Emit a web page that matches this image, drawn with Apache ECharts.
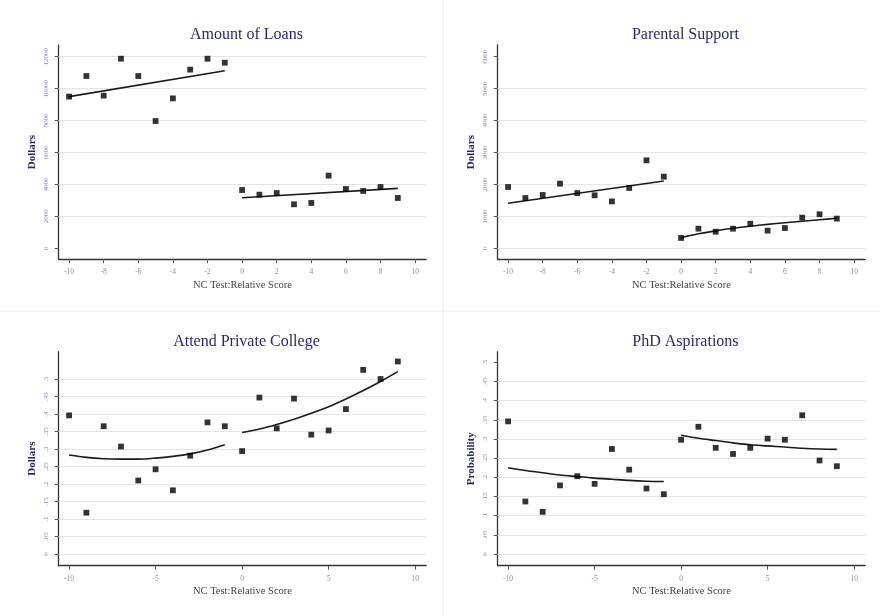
<!DOCTYPE html>
<html>
<head>
<meta charset="utf-8">
<script src="https://cdn.jsdelivr.net/npm/echarts@6/dist/echarts.min.js"></script>
<style>html,body{margin:0;padding:0;background:#fff;}#c{width:880px;height:616px;}</style>
</head>
<body>
<div id="c"></div>
<script>
// ---- data ----
const titles = ["Amount of Loans", "Parental Support", "Attend Private College", "PhD Aspirations"];
const yNames = ["Dollars", "Dollars", "Dollars", "Probability"];
const xName = "NC Test:Relative Score";

const xLeft = [-10, -9, -8, -7, -6, -5, -4, -3, -2, -1];
const xRight = [0, 1, 2, 3, 4, 5, 6, 7, 8, 9];

// Amount of Loans
const loansLeft = [9500, 10790, 9560, 11875, 10790, 7970, 9390, 11190, 11875, 11625];
const loansRight = [3650, 3360, 3460, 2755, 2840, 4550, 3715, 3590, 3840, 3150];
const loansFitLeftX = [-10, -1];
const loansFitLeft = [9500, 11125];
const loansFitRightX = [0, 9];
const loansFitRight = [3170, 3755];

// Parental Support
const parentLeft = [1920, 1575, 1670, 2025, 1730, 1660, 1470, 1890, 2755, 2245];
const parentRight = [325, 615, 520, 615, 770, 555, 635, 960, 1065, 930];
const parentFitLeftX = [-10, -1];
const parentFitLeft = [1410, 2110];
const parentFitRight = [332, 455, 545, 626, 693, 750, 802, 850, 895, 940];

// Attend Private College
const privLeft = [0.396, 0.118, 0.365, 0.307, 0.210, 0.242, 0.182, 0.281, 0.376, 0.365];
const privRight = [0.294, 0.447, 0.359, 0.444, 0.341, 0.353, 0.414, 0.526, 0.500, 0.550];
const privFitLeft = [0.283, 0.276, 0.272, 0.271, 0.271, 0.274, 0.279, 0.286, 0.297, 0.312];
const privFitRight = [0.347, 0.357, 0.370, 0.385, 0.402, 0.421, 0.443, 0.467, 0.493, 0.521];

// PhD Aspirations
const phdLeft = [0.346, 0.137, 0.110, 0.179, 0.203, 0.183, 0.274, 0.220, 0.171, 0.156];
const phdRight = [0.298, 0.332, 0.277, 0.261, 0.277, 0.301, 0.298, 0.362, 0.244, 0.229];
const phdFitLeft = [0.225, 0.218, 0.212, 0.206, 0.202, 0.198, 0.195, 0.192, 0.190, 0.189];
const phdFitRight = [0.310, 0.302, 0.296, 0.290, 0.285, 0.282, 0.279, 0.276, 0.274, 0.273];

// ticks
const xTicksTop = [-10, -8, -6, -4, -2, 0, 2, 4, 6, 8, 10];
const xTicksBottom = [-10, -5, 0, 5, 10];
const yTicksLoans = [0, 2000, 4000, 6000, 8000, 10000, 12000];
const yTicksParent = [0, 1000, 2000, 3000, 4000, 5000, 6000];
const yTicksProb = [0, 0.05, 0.1, 0.15, 0.2, 0.25, 0.3, 0.35, 0.4, 0.45, 0.5];
const yTickLabelsProb = ["0", ".05", ".1", ".15", ".2", ".25", ".3", ".35", ".4", ".45", ".5"];
const gridLoans = [2000, 4000, 6000, 8000, 10000, 12000];
const gridParent = [0, 1000, 2000, 3000, 4000, 5000];
const gridPriv = [0, 0.05, 0.1, 0.15, 0.2, 0.25, 0.3, 0.35, 0.4, 0.45, 0.5];
const gridPhd = [0, 0.05, 0.1, 0.15, 0.2, 0.25, 0.3, 0.35, 0.4, 0.45];

// ---- layout ----
const FONT = "Liberation Serif";
const grids = [
  {left: 58.7, top: 45, width: 367.5, height: 214.3},
  {left: 497.7, top: 45, width: 367.5, height: 214.3},
  {left: 58.7, top: 351.7, width: 367.5, height: 214},
  {left: 497.7, top: 351.7, width: 367.5, height: 214}
];
const yRanges = [[-689, 12733], [-344, 6367], [-0.0334, 0.578], [-0.0305, 0.5278]];
const yTicks = [yTicksLoans, yTicksParent, yTicksProb, yTicksProb];
const xTicks = [xTicksTop, xTicksTop, xTicksBottom, xTicksBottom];
const gridLines = [gridLoans, gridParent, gridPriv, gridPhd];

const pair = (xs, ys) => xs.map((x, i) => [x, ys[i]]);
const scatterData = [
  [pair(xLeft, loansLeft), pair(xRight, loansRight)],
  [pair(xLeft, parentLeft), pair(xRight, parentRight)],
  [pair(xLeft, privLeft), pair(xRight, privRight)],
  [pair(xLeft, phdLeft), pair(xRight, phdRight)]
];
const fitData = [
  [pair(loansFitLeftX, loansFitLeft), pair(loansFitRightX, loansFitRight)],
  [pair(parentFitLeftX, parentFitLeft), pair(xRight, parentFitRight)],
  [pair(xLeft, privFitLeft), pair(xRight, privFitRight)],
  [pair(xLeft, phdFitLeft), pair(xRight, phdFitRight)]
];

const tickColor = "#8c8ca8";
const navy = "#2a2a68";

const option = {
  animation: false,
  backgroundColor: "#fff",
  title: grids.map((g, i) => ({
    text: titles[i],
    left: g.left + g.width / 2 - 1,
    top: g.top - 23,
    textAlign: "center",
    textStyle: {fontFamily: FONT, fontSize: 16, fontWeight: "normal", color: navy}
  })),
  grid: grids.map(g => ({left: g.left, top: g.top, width: g.width, height: g.height, containLabel: false})),
  xAxis: grids.map((g, i) => ({
    type: "value", gridIndex: i, min: -10.6, max: 10.64,
    name: xName, nameLocation: "middle", nameGap: 20,
    nameTextStyle: {fontFamily: FONT, fontSize: 10.5, color: "#444"},
    axisLine: {show: true, onZero: false, lineStyle: {color: "#333", width: 1.3}},
    axisTick: {show: true, length: 4, lineStyle: {color: "#555"}, customValues: xTicks[i]},
    axisLabel: {customValues: xTicks[i], fontFamily: FONT, fontSize: 7.5, color: tickColor, margin: 9},
    splitLine: {show: false}
  })),
  yAxis: grids.map((g, i) => ({
    type: "value", gridIndex: i, min: yRanges[i][0], max: yRanges[i][1],
    name: yNames[i], nameLocation: "middle", nameGap: 21, nameRotate: 90,
    nameTextStyle: {fontFamily: FONT, fontSize: 11, fontWeight: "bold", color: navy},
    axisLine: {show: true, onZero: false, lineStyle: {color: "#333", width: 1.3}},
    axisTick: {show: true, length: 4, lineStyle: {color: "#555"}, customValues: yTicks[i]},
    axisLabel: {
      customValues: yTicks[i], rotate: 90, fontFamily: FONT, fontSize: 7, color: tickColor, margin: 9,
      formatter: (v) => (i >= 2 ? yTickLabelsProb[yTicksProb.findIndex(t => Math.abs(t - v) < 1e-9)] : String(Math.round(v)))
    },
    splitLine: {show: false}
  })),
  series: [],
  graphic: [
    {type: "line", shape: {x1: 443, y1: 0, x2: 443, y2: 616}, style: {stroke: "#ececec", lineWidth: 1}, silent: true, z: -1},
    {type: "line", shape: {x1: 0, y1: 311, x2: 880, y2: 311}, style: {stroke: "#ececec", lineWidth: 1}, silent: true, z: -1}
  ]
};

for (let i = 0; i < 4; i++) {
  option.series.push({
    type: "scatter", xAxisIndex: i, yAxisIndex: i, data: [], z: 1,
    markLine: {
      silent: true, symbol: "none", label: {show: false}, z: 1, animation: false,
      lineStyle: {color: "#e4e4e4", width: 1, type: "solid"},
      emphasis: {disabled: true},
      data: gridLines[i].map(v => ({yAxis: v}))
    }
  });
  for (let k = 0; k < 2; k++) {
    option.series.push({
      type: "line", xAxisIndex: i, yAxisIndex: i, data: fitData[i][k],
      showSymbol: false, smooth: fitData[i][k].length > 2 ? 0.3 : false,
      lineStyle: {color: "#1a1a1a", width: 1.6}, z: 3
    });
    option.series.push({
      type: "scatter", xAxisIndex: i, yAxisIndex: i, data: scatterData[i][k],
      symbol: "rect", symbolSize: 5.8, itemStyle: {color: "#000"}, z: 4
    });
  }
}

const chart = echarts.init(document.getElementById("c"), null, {renderer: "canvas"});
chart.setOption(option);
</script>
</body>
</html>
